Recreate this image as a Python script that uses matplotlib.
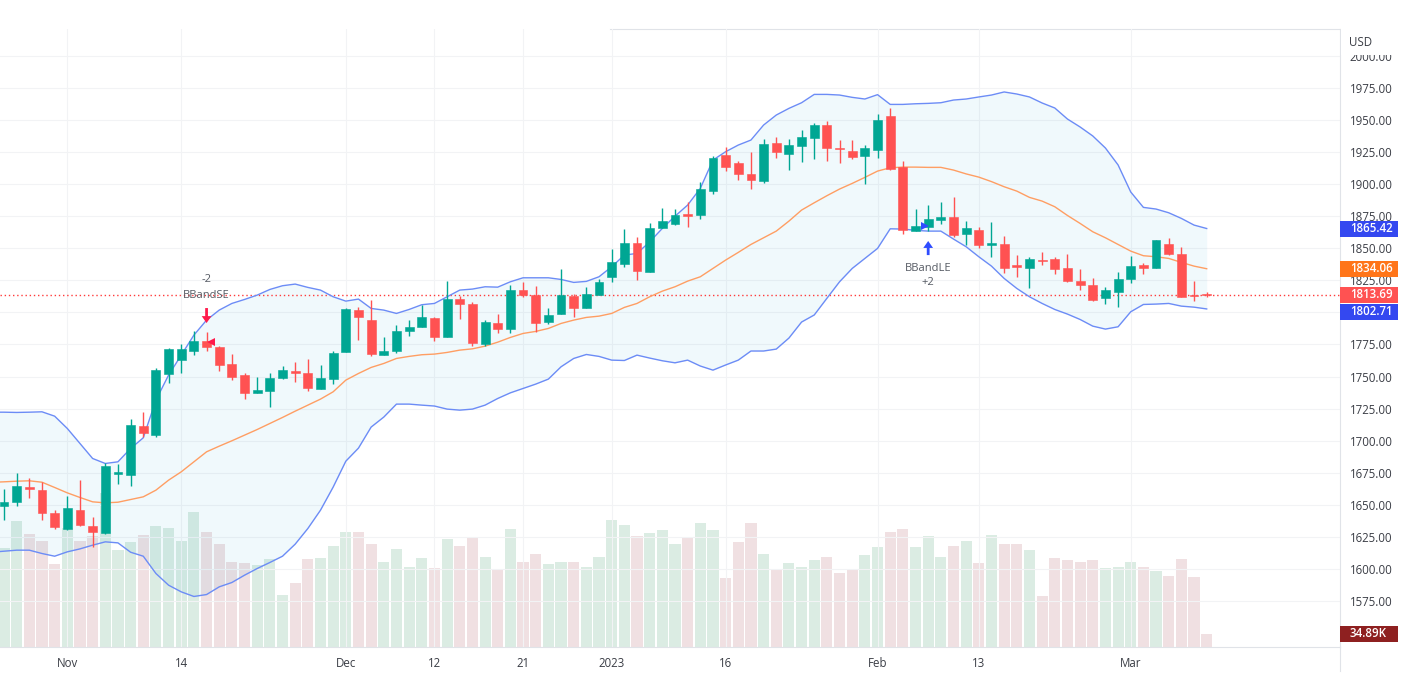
# plot.py - gold daily candles with bollinger bands and volume

import numpy as np
import matplotlib
matplotlib.use('Agg')
import matplotlib.pyplot as plt
from matplotlib.lines import Line2D
from matplotlib.patches import Rectangle
from matplotlib.transforms import blended_transform_factory

opens = [1648.7, 1651.8, 1663.7, 1661.4, 1643.2, 1631.5, 1646.3, 1633.8, 1628.1, 1674.1, 1673.1, 1711.3,
         1704.6, 1752.1, 1762.8, 1769.8, 1777.4, 1772.7, 1759.7, 1751.1, 1737.3, 1739.1, 1748.5, 1754.2,
         1752.4, 1739.9, 1748.2, 1769.0, 1801.8, 1794.0, 1766.7, 1769.8, 1785.4, 1788.8, 1795.8, 1780.5,
         1810.4, 1806.5, 1775.0, 1791.9, 1786.7, 1817.4, 1813.2, 1792.2, 1799.0, 1812.7, 1803.6, 1813.5,
         1827.5, 1837.4, 1853.8, 1831.2, 1865.5, 1869.1, 1876.9, 1875.6, 1894.6, 1922.4, 1916.2, 1907.6,
         1902.4, 1932.3, 1923.2, 1930.0, 1936.2, 1946.1, 1928.4, 1926.1, 1921.7, 1926.9, 1952.9, 1913.3,
         1863.4, 1866.3, 1872.0, 1874.1, 1861.1, 1864.0, 1852.8, 1853.3, 1836.6, 1834.3, 1841.1, 1841.6,
         1834.8, 1824.7, 1821.6, 1811.4, 1816.1, 1825.7, 1836.9, 1834.8, 1853.3, 1845.5, 1813.5, 1814.0]
highs = [1662.2, 1674.4, 1670.5, 1667.9, 1645.8, 1656.7, 1669.2, 1640.6, 1682.2, 1681.7, 1716.5, 1722.0,
         1756.3, 1772.2, 1775.3, 1785.7, 1784.9, 1774.2, 1767.5, 1752.4, 1749.5, 1752.4, 1758.1, 1761.0,
         1763.3, 1758.9, 1769.8, 1803.1, 1803.9, 1809.6, 1780.5, 1790.4, 1794.0, 1805.7, 1796.1, 1824.4,
         1813.0, 1808.0, 1794.0, 1798.7, 1821.3, 1823.4, 1820.5, 1803.4, 1833.5, 1814.0, 1819.5, 1825.7,
         1849.1, 1864.7, 1858.5, 1869.4, 1881.1, 1880.3, 1886.3, 1901.9, 1921.9, 1928.7, 1918.3, 1925.3,
         1934.9, 1937.0, 1934.9, 1942.2, 1947.4, 1949.2, 1934.4, 1934.4, 1930.5, 1954.7, 1959.1, 1918.3,
         1880.8, 1884.0, 1886.0, 1889.7, 1871.5, 1866.3, 1870.2, 1859.5, 1844.7, 1843.1, 1847.3, 1842.9,
         1845.5, 1833.5, 1827.0, 1819.5, 1831.2, 1843.9, 1838.5, 1856.4, 1858.0, 1850.7, 1824.2, 1816.1]
lows = [1638.0, 1649.2, 1654.9, 1638.0, 1631.5, 1630.2, 1633.6, 1616.7, 1627.6, 1666.1, 1664.8, 1703.0,
        1703.0, 1744.6, 1752.9, 1766.7, 1769.8, 1754.5, 1747.5, 1732.4, 1736.8, 1726.1, 1748.2, 1745.9,
        1739.1, 1739.9, 1744.3, 1768.8, 1778.4, 1765.9, 1766.7, 1768.5, 1781.3, 1788.3, 1777.6, 1780.5,
        1795.0, 1773.7, 1773.7, 1783.6, 1784.1, 1812.2, 1784.9, 1791.1, 1799.0, 1796.6, 1803.6, 1813.2,
        1823.4, 1835.6, 1825.2, 1831.2, 1865.5, 1867.8, 1866.3, 1872.5, 1892.3, 1910.0, 1903.2, 1896.2,
        1901.1, 1920.1, 1911.0, 1917.0, 1919.6, 1918.3, 1916.2, 1919.6, 1900.1, 1920.1, 1911.0, 1861.1,
        1863.2, 1863.7, 1868.9, 1859.0, 1852.5, 1850.4, 1843.4, 1830.4, 1827.3, 1819.0, 1837.2, 1829.6,
        1823.4, 1817.4, 1809.1, 1806.5, 1804.4, 1823.1, 1829.6, 1834.8, 1844.7, 1811.7, 1809.1, 1811.7]
closes = [1652.3, 1664.5, 1662.4, 1643.2, 1632.3, 1647.6, 1634.1, 1628.6, 1680.6, 1675.4, 1712.1, 1706.1,
          1755.0, 1771.4, 1771.1, 1778.1, 1772.7, 1758.9, 1749.8, 1736.8, 1739.4, 1748.8, 1755.0, 1752.9,
          1740.7, 1748.8, 1768.0, 1802.6, 1796.6, 1767.5, 1770.3, 1785.7, 1788.8, 1796.3, 1780.5, 1810.4,
          1806.7, 1775.8, 1792.7, 1786.7, 1817.1, 1813.2, 1791.4, 1797.9, 1813.2, 1803.6, 1814.0, 1823.4,
          1839.2, 1853.8, 1832.2, 1865.5, 1871.5, 1876.2, 1874.9, 1896.2, 1920.1, 1913.3, 1907.9, 1903.2,
          1931.3, 1925.3, 1930.5, 1936.7, 1946.1, 1928.4, 1927.1, 1921.4, 1928.2, 1950.0, 1911.5, 1864.5,
          1867.0, 1873.0, 1874.6, 1860.0, 1865.5, 1852.8, 1854.1, 1834.8, 1835.6, 1841.6, 1840.0, 1833.5,
          1824.2, 1821.3, 1809.6, 1817.1, 1826.2, 1836.1, 1835.0, 1856.4, 1845.7, 1812.2, 1812.7, 1813.69]

# bands start one session earlier than the first candle, the chart is cut there
upper = [1722.2, 1722.2, 1722.0, 1722.2, 1722.5, 1719.1, 1709.5, 1697.8, 1686.1, 1682.2, 1683.5, 1693.9, 1702.2,
         1731.6, 1751.1, 1766.7, 1782.3, 1794.0, 1801.8, 1807.0, 1810.1, 1813.5, 1817.9, 1820.8, 1822.1,
         1819.5, 1817.4, 1812.2, 1808.8, 1810.4, 1803.1, 1801.8, 1799.2, 1802.3, 1806.0, 1807.0, 1812.2,
         1817.4, 1818.2, 1820.0, 1819.7, 1823.9, 1827.0, 1827.0, 1827.0, 1825.7, 1823.4, 1824.2, 1827.8,
         1835.6, 1844.7, 1846.0, 1855.0, 1865.5, 1875.0, 1883.7, 1896.7, 1918.8, 1925.3, 1930.5, 1934.4,
         1946.1, 1953.9, 1959.1, 1963.5, 1970.0, 1970.0, 1969.5, 1967.7, 1966.4, 1969.8, 1962.2, 1962.2,
         1962.7, 1963.0, 1963.5, 1965.6, 1966.4, 1968.0, 1969.5, 1971.9, 1970.3, 1968.0, 1963.3, 1959.4,
         1950.8, 1944.6, 1937.6, 1928.2, 1915.0, 1893.9, 1881.9, 1880.6, 1877.7, 1873.3, 1868.1, 1865.42]
basis = [1667.5, 1667.9, 1668.4, 1668.7, 1667.6, 1663.5, 1659.3, 1655.7, 1652.3, 1651.5, 1652.0, 1654.1, 1656.2,
         1661.4, 1669.2, 1675.7, 1683.5, 1691.3, 1695.7, 1699.9, 1704.3, 1708.7, 1713.4, 1718.1, 1723.0,
         1727.7, 1732.4, 1738.1, 1747.2, 1752.4, 1757.1, 1760.2, 1764.1, 1765.7, 1767.0, 1767.5, 1768.8,
         1770.6, 1771.6, 1773.7, 1776.8, 1780.5, 1783.6, 1785.2, 1787.5, 1791.4, 1794.0, 1796.1, 1797.1,
         1799.2, 1803.9, 1807.0, 1812.2, 1816.6, 1820.0, 1824.4, 1827.8, 1834.3, 1840.8, 1846.8, 1853.0,
         1858.2, 1863.4, 1871.2, 1879.8, 1885.5, 1891.0, 1896.2, 1900.6, 1905.3, 1910.2, 1912.8, 1913.3,
         1913.3, 1913.1, 1913.1, 1911.0, 1908.0, 1905.5, 1902.0, 1898.0, 1894.6, 1889.7, 1886.8, 1882.4,
         1875.6, 1869.4, 1862.9, 1858.2, 1853.0, 1847.8, 1844.2, 1843.4, 1842.1, 1839.0, 1836.1, 1834.06]
lower = [1613.0, 1613.8, 1614.6, 1614.6, 1612.0, 1609.9, 1613.3, 1615.6, 1618.5, 1621.1, 1620.3, 1613.0, 1609.9,
         1596.4, 1587.3, 1582.1, 1578.5, 1580.0, 1586.0, 1589.4, 1595.1, 1600.3, 1605.0, 1609.9, 1619.3,
         1631.5, 1645.8, 1663.8, 1684.0, 1694.2, 1710.6, 1718.4, 1728.5, 1728.5, 1727.7, 1727.0, 1724.6,
         1723.8, 1724.6, 1727.7, 1732.9, 1737.3, 1740.7, 1744.1, 1748.0, 1757.6, 1764.1, 1767.2, 1765.7,
         1762.8, 1762.5, 1766.7, 1764.4, 1762.3, 1760.7, 1762.8, 1758.2, 1755.0, 1759.0, 1762.8, 1769.9,
         1769.9, 1771.4, 1780.0, 1792.5, 1798.0, 1811.0, 1823.9, 1834.3, 1842.1, 1849.9, 1865.2, 1865.0,
         1864.0, 1863.4, 1863.4, 1857.2, 1851.2, 1843.4, 1836.1, 1826.5, 1818.7, 1812.2, 1807.0, 1802.3,
         1798.7, 1794.5, 1789.3, 1787.0, 1788.8, 1800.5, 1806.2, 1806.5, 1807.0, 1804.9, 1804.1, 1802.71]

volumes = [260, 331, 297, 278, 217, 312, 277, 290, 404, 255, 276, 294, 318, 312, 278, 354, 302, 271, 223, 220,
           216, 231, 137, 169, 230, 233, 264, 302, 302, 270, 223, 256, 211, 232, 207, 284, 266, 287, 237, 203,
           310, 223, 245, 217, 224, 223, 211, 237, 334, 320, 290, 299, 307, 271, 287, 326, 306, 181, 274, 326,
           243, 204, 220, 211, 227, 235, 194, 204, 240, 261, 302, 310, 261, 290, 235, 264, 279, 220, 294, 269,
           269, 255, 133, 232, 227, 223, 227, 207, 211, 223, 210, 199, 187, 230, 184, 34.89]

price_ticks = [1575, 1600, 1625, 1650, 1675, 1700, 1725, 1750, 1775, 1800, 1825, 1850, 1875, 1900, 1925,
               1950, 1975, 2000]
time_ticks = [5, 14, 27, 34, 41, 48, 57, 69, 77, 89]
time_labels = ['Nov', '14', 'Dec', '12', '21', '2023', '16', 'Feb', '13', 'Mar']

GREEN = '#00a693'
RED = '#ff5252'
BLUE_LINE = '#6c8cf6'
ORANGE_LINE = '#ff9e63'
GRID = '#f2f3f5'
AXIS = '#e0e3e8'
TEXT = '#3a3d45'

plt.rcParams['font.family'] = ['Open Sans', 'DejaVu Sans']

W, H = 1401, 700
fig = plt.figure(figsize=(W / 100, H / 100), dpi=100, facecolor='white')
ax = fig.add_axes([0, (H - 647) / H, 1340 / W, (647 - 29) / H])
vol_ax = ax.twinx()

idx = np.arange(len(closes))
band_idx = np.arange(-1, len(closes))
o, h, l, c = map(np.array, (opens, highs, lows, closes))
up = c >= o
colors = np.where(up, GREEN, RED)

# volume sits behind everything in its own axis
ax.set_zorder(2)
ax.patch.set_visible(False)
vol_ax.set_zorder(1)
vol_ax.bar(idx[up], np.array(volumes)[up], width=0.88, color='#4ba073', alpha=0.2, linewidth=0)
vol_ax.bar(idx[~up], np.array(volumes)[~up], width=0.88, color='#b46470', alpha=0.2, linewidth=0)
vol_ax.set_ylim(0, 1620)
vol_ax.axis('off')

# bands
ax.fill_between(band_idx, lower, upper, color='#059bcd', alpha=0.06, linewidth=0, zorder=1)
ax.plot(band_idx, upper, color=BLUE_LINE, lw=1.0, zorder=3)
ax.plot(band_idx, lower, color=BLUE_LINE, lw=1.0, zorder=3)
ax.plot(band_idx, basis, color=ORANGE_LINE, lw=1.0, zorder=3)

# last price line
ax.axhline(closes[-1], color='#ff3b3b', lw=1.0, ls=(0, (1, 2)), zorder=2)

# candles
ax.vlines(idx, l, h, colors=colors, lw=1.0, zorder=4)
ax.bar(idx, np.abs(c - o), bottom=np.minimum(o, c), width=0.7, color=colors, edgecolor=colors, linewidth=0.4, zorder=5)

ax.set_xlim(-4 / 12.66, 1336 / 12.66)
ax.set_ylim(1539.1, 2021.0)

ax.set_yticks(price_ticks)
# the 1800 label is covered by the lower band tag on the scale
ax.set_yticklabels(['' if p == 1800 else '%.2f' % p for p in price_ticks])
ax.yaxis.tick_right()
ax.set_xticks(time_ticks)
ax.set_xticklabels(time_labels)
ax.tick_params(axis='y', length=0, pad=7, labelsize=8.3, labelcolor=TEXT)
ax.tick_params(axis='x', length=0, pad=7, labelsize=8.3, labelcolor=TEXT)
ax.grid(True, color=GRID, lw=0.8)
ax.set_axisbelow(True)
for side in ['top', 'left']:
    ax.spines[side].set_visible(False)
ax.spines['right'].set_color(AXIS)
ax.spines['bottom'].set_color(AXIS)

# strategy signals
ax.annotate('', xy=(16, 1791.7), xytext=(16, 1803.4),
            arrowprops=dict(width=2.0, headwidth=7, headlength=5, shrink=0, color='#ff1a4b', lw=0), zorder=6)
ax.plot(16.35, 1777.3, marker='<', ms=5.5, color='#ff1a4b', mew=0, zorder=6)
ax.text(16, 1825.5, '-2', ha='center', va='center', fontsize=8, color='#555a63', zorder=6)
ax.text(16, 1813.5, 'BBandSE', ha='center', va='center', fontsize=8, color='#555a63', zorder=6)

ax.annotate('', xy=(73, 1855.7), xytext=(73, 1844.7),
            arrowprops=dict(width=2.0, headwidth=7, headlength=5, shrink=0, color='#2e4cff', lw=0), zorder=6)
ax.plot(72.75, 1867.4, marker='>', ms=5.5, color='#2e4cff', mew=0, zorder=6)
ax.text(73, 1834.2, 'BBandLE', ha='center', va='center', fontsize=8, color='#555a63', zorder=6)
ax.text(73, 1823.3, '+2', ha='center', va='center', fontsize=8, color='#555a63', zorder=6)


def price_tag(axis, value, label, color):
    trans = blended_transform_factory(fig.transFigure, axis.transData)
    px = abs(axis.transData.inverted().transform((0, 8))[1] - axis.transData.inverted().transform((0, 0))[1])
    ax.add_patch(Rectangle((1340 / W, value - px), 58 / W, 2 * px, transform=trans, facecolor=color,
                           edgecolor='none', clip_on=False, zorder=10))
    ax.text(1350 / W, value, label, transform=trans, color='white', fontsize=8.3, fontweight='semibold',
            ha='left', va='center', clip_on=False, zorder=11)


price_tag(ax, upper[-1], '1865.42', '#3448f0')
price_tag(ax, basis[-1], '1834.06', '#ff7519')
price_tag(ax, closes[-1], '1813.69', RED)
price_tag(ax, lower[-1] - 2, '1802.71', '#3448f0')
price_tag(vol_ax, volumes[-1], '34.89K', '#8e2020')

# header strip over the price scale, top border, scale line running below the chart
ax.add_patch(Rectangle((1341 / W, (H - 55) / H), (W - 1341) / W, 55 / H, transform=fig.transFigure,
                       facecolor='white', edgecolor='none', clip_on=False, zorder=9))
ax.text(1349 / W, (H - 42) / H, 'USD', transform=fig.transFigure, fontsize=8.3, color=TEXT,
        ha='left', va='center', clip_on=False, zorder=11)
fig.add_artist(Line2D([610 / W, 1], [(H - 29) / H] * 2, color=AXIS, lw=0.8))
fig.add_artist(Line2D([1340 / W] * 2, [(H - 671) / H, (H - 647) / H], color=AXIS, lw=0.8))

fig.savefig('out.png', dpi=100, facecolor='white')
